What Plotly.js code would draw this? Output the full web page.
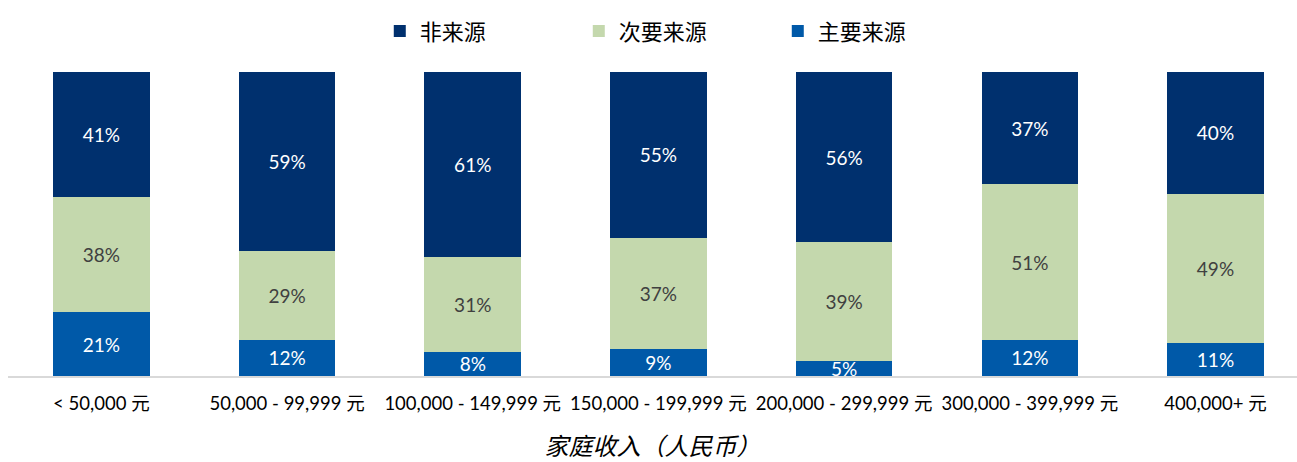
<!DOCTYPE html>
<html>
<head>
<meta charset="utf-8">
<script src="https://cdn.plot.ly/plotly-3.0.1.min.js"></script>
<style>html,body{margin:0;padding:0;background:#fff;}</style>
</head>
<body>
<div id="chart" style="width:1297px;height:462px;"></div>
<script>
const categories = ["&lt; 50,000 元", "50,000 - 99,999 元", "100,000 - 149,999 元", "150,000 - 199,999 元", "200,000 - 299,999 元", "300,000 - 399,999 元", "400,000+ 元"];
const primarySource = [21, 12, 8, 9, 5, 12, 11];
const secondarySource = [38, 29, 31, 37, 39, 51, 49];
const notSource = [41, 59, 61, 55, 56, 37, 40];
const seriesNames = ["主要来源", "次要来源", "非来源"];

const FONT = "Lato, 'Noto Sans CJK SC', sans-serif";
const idx = categories.map((_, i) => i);

function mk(vals, name, color, textColor) {
  return {
    type: 'bar', x: idx, y: vals, name: name,
    marker: {color: color, line: {width: 0}},
    text: vals.map(v => v + '%'),
    textposition: 'inside', insidetextanchor: 'middle',
    constraintext: 'none', textangle: 0,
    textfont: {family: FONT, size: 19, color: textColor},
    hoverinfo: 'skip'
  };
}

const data = [
  mk(primarySource, seriesNames[0], '#0059A8', '#ffffff'),
  mk(secondarySource, seriesNames[1], '#C4D8AD', '#404040'),
  mk(notSource, seriesNames[2], '#00306E', '#ffffff')
];

const layout = {
  width: 1297, height: 462,
  barmode: 'stack', barnorm: 'percent', bargap: 0.48,
  margin: {l: 8, r: 0, t: 72, b: 86},
  paper_bgcolor: '#fff', plot_bgcolor: '#fff',
  font: {family: FONT, color: '#000'},
  showlegend: true,
  legend: {
    orientation: 'h', x: 0.52, xanchor: 'center', y: 1.065, yanchor: 'bottom',
    traceorder: 'reversed', entrywidth: 154, itemwidth: 30,
    font: {family: "'Noto Sans CJK SC', sans-serif", size: 22, color: '#000'}
  },
  xaxis: {
    range: [-0.503, 6.439],
    tickmode: 'array', tickvals: idx, ticktext: categories,
    tickfont: {family: FONT, size: 18.5, color: '#000'},
    ticks: '', showgrid: false, zeroline: false,
    showline: true, linecolor: '#D9D9D9', linewidth: 2,
    ticklabelstandoff: 10,
    title: {text: '家庭收入（人民币）', font: {family: "'Noto Sans CJK SC', serif", size: 24, color: '#000', style: 'italic'}, standoff: 33},
    fixedrange: true
  },
  yaxis: {
    range: [0, 100], visible: false, showgrid: false, zeroline: false, fixedrange: true
  }
};

Plotly.newPlot('chart', data, layout, {displayModeBar: false, staticPlot: true});
</script>
</body>
</html>
